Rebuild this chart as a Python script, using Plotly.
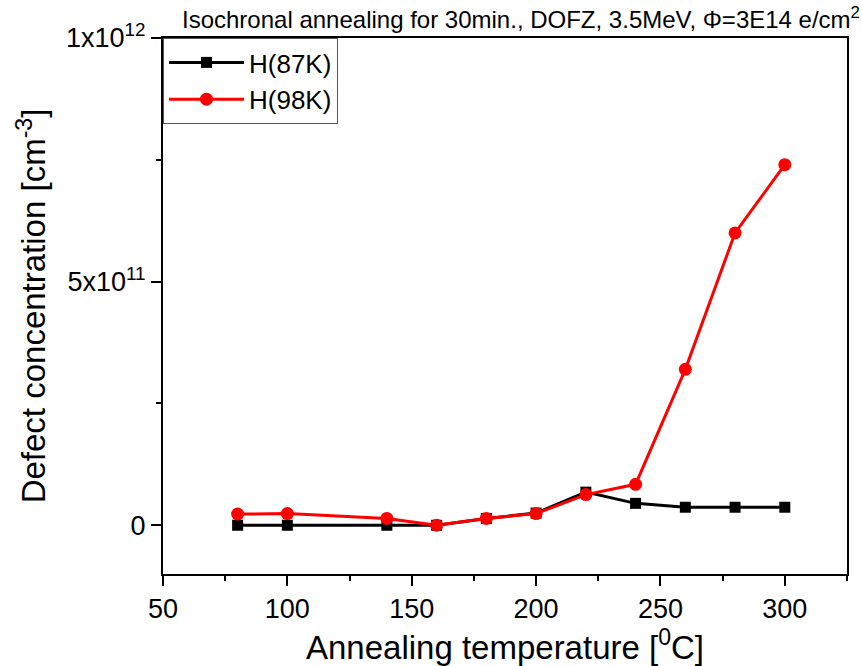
import plotly.graph_objects as go

temps = [80, 100, 140, 160, 180, 200, 220, 240, 260, 280, 300]
h87 = [0, 0, 0, 0, 1.4e10, 2.5e10, 6.8e10, 4.5e10, 3.7e10, 3.7e10, 3.7e10]
h98 = [2.3e10, 2.4e10, 1.4e10, 0, 1.4e10, 2.4e10, 6.3e10, 8.4e10, 3.2e11, 6.0e11, 7.4e11]
ytick_vals = [0, 5e11, 1e12]
ytick_text = ["0", "5x10<sup>11</sup>", "1x10<sup>12</sup>"]
xtick_vals = [50, 100, 150, 200, 250, 300]

FONT = "Liberation Sans, Arial, sans-serif"

fig = go.Figure()
fig.add_trace(go.Scatter(x=temps, y=h87, mode="lines+markers", name="H(87K)",
                         line=dict(color="black", width=3),
                         marker=dict(symbol="square", size=11, color="black")))
fig.add_trace(go.Scatter(x=temps, y=h98, mode="lines+markers", name="H(98K)",
                         line=dict(color="#ff0000", width=3),
                         marker=dict(symbol="circle", size=13, color="#ff0000")))

fig.update_layout(
    width=862, height=666,
    margin=dict(l=163, r=15, t=38, b=92),
    paper_bgcolor="white", plot_bgcolor="white",
    font=dict(family=FONT, color="black"),
    showlegend=True,
    legend=dict(x=0, y=1, xanchor="left", yanchor="top",
                bordercolor="#555", borderwidth=1, bgcolor="white",
                font=dict(size=26, family=FONT), tracegroupgap=0,
                itemwidth=75),
    annotations=[dict(text="Isochronal annealing for 30min., DOFZ, 3.5MeV, Φ=3E14 e/cm<sup>2</sup>",
                      x=1.022, y=1, xref="paper", yref="paper", xanchor="right", yanchor="bottom",
                      yshift=3, showarrow=False, font=dict(size=24, family=FONT))],
)
fig.update_xaxes(range=[50, 325], tickvals=xtick_vals, showgrid=False, zeroline=False,
                 showline=True, linecolor="black", linewidth=2, mirror=True,
                 ticks="outside", ticklen=10, tickwidth=2, tickcolor="black",
                 minor=dict(tickvals=[75, 125, 175, 225, 275, 325], ticks="outside", ticklen=5, tickwidth=2, tickcolor="black"),
                 tickfont=dict(size=27, family=FONT),
                 title=dict(text="Annealing temperature [<sup>0</sup>C]", font=dict(size=33, family=FONT), standoff=4))
fig.update_yaxes(range=[-1e11, 1e12], tickvals=ytick_vals, ticktext=ytick_text, showgrid=False, zeroline=False,
                 showline=True, linecolor="black", linewidth=2, mirror=True,
                 ticks="outside", ticklen=10, tickwidth=2, tickcolor="black",
                 minor=dict(tickvals=[2.5e11, 7.5e11], ticks="outside", ticklen=5, tickwidth=2, tickcolor="black"),
                 tickfont=dict(size=27, family=FONT),
                 title=dict(text="Defect concentration [cm<sup>-3</sup>]", font=dict(size=33, family=FONT), standoff=10))

fig.write_html("out.html")
